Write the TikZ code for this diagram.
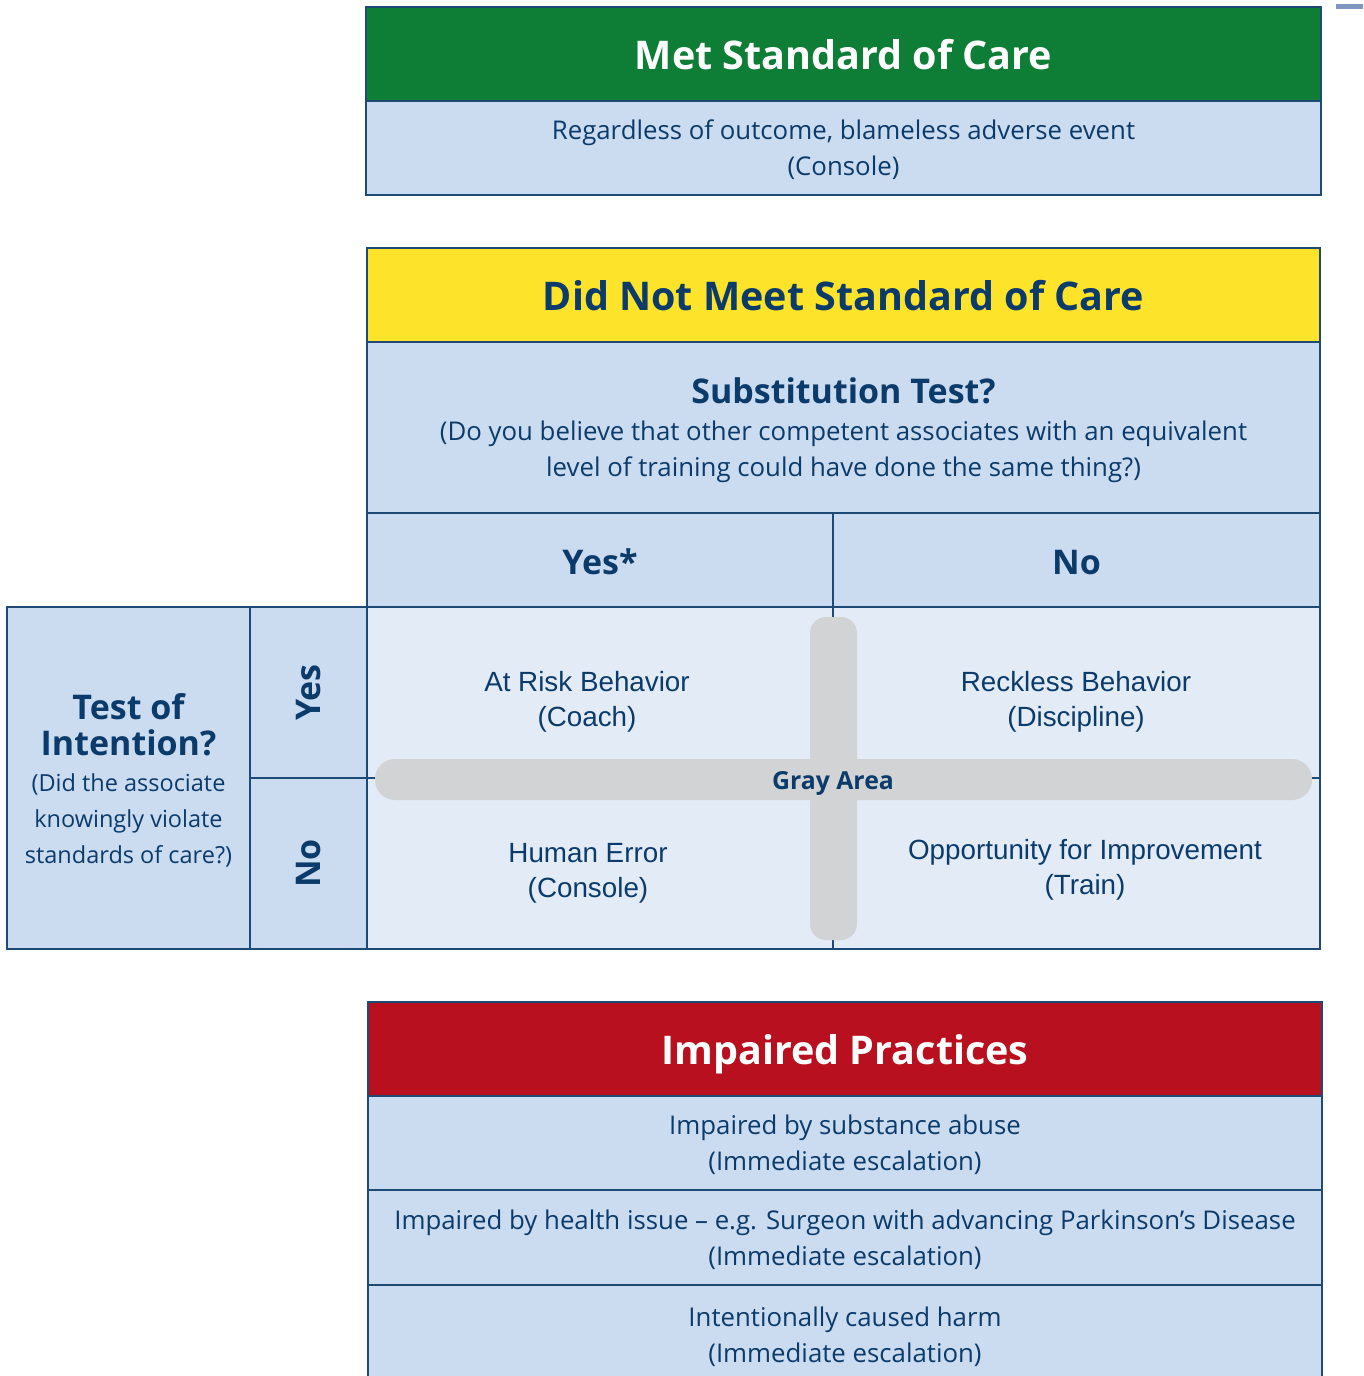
\documentclass[tikz,border=0pt]{standalone}
\usepackage{fontspec}
\setmainfont{Open Sans}
\newfontfamily\quadfont{Liberation Sans}
\usetikzlibrary{positioning}

\definecolor{navy}{HTML}{0B3B6B}
\definecolor{frame}{HTML}{1E4A78}
\definecolor{paleblue}{HTML}{CBDBF0}
\definecolor{quadblue}{HTML}{E3EBF6}
\definecolor{metgreen}{HTML}{0E7D36}
\definecolor{notyellow}{HTML}{FDE42A}
\definecolor{impred}{HTML}{B8101F}
\definecolor{grayarea}{HTML}{D2D3D5}
\definecolor{tabmark}{HTML}{7F97C0}

\newcommand\hdrsize{\fontsize{39.5}{44}\selectfont\bfseries}
\newcommand\subsize{\fontsize{34}{36}\selectfont\bfseries}
\newcommand\txtsize{\fontsize{25.8}{36}\selectfont\mdseries}
\newcommand\smallsize{\fontsize{23.5}{36.5}\selectfont\mdseries}

\tikzset{
  box/.style={draw=frame, line width=1.5pt, inner sep=0pt, outer sep=0pt,
    align=center, text=navy, node font=\txtsize},
  hdr/.style={box, minimum height=94pt, node font=\hdrsize, text height=31pt, text depth=0pt},
  cell/.style={box, fill=paleblue, text depth=0pt},
  answer/.style={box, fill=paleblue, minimum height=94pt, node font=\subsize, text height=28pt, text depth=0pt},
  quad/.style={box, fill=quadblue, minimum width=#1, minimum height=171pt},
  quadtext/.style={align=center, text=navy, font=\quadfont\fontsize{27.8}{35}\selectfont},
}

\begin{document}
\begin{tikzpicture}[x=1pt, y=-1pt, node distance=0pt]
    \useasboundingbox (0,0) rectangle (1363,1376);
    \fill[tabmark] (1336,4) rectangle (1363,9);

    % Met standard of care
    \node [hdr, fill=metgreen, text=white, minimum width=955pt] (met) at (843.5,54) {Met Standard of Care};
    \node [cell, minimum width=955pt, minimum height=94pt, below=of met] (metnote)
        {Regardless of outcome, blameless adverse event\\(Console)};

    % Did not meet standard of care
    \node [hdr, fill=notyellow, minimum width=953pt] (notmet) at (843.5,295) {Did Not Meet Standard of Care};
    \node [cell, minimum width=953pt, minimum height=171pt, below=of notmet] (subst)
        {\subsize Substitution Test?\\[1pt]
         \txtsize (Do you believe that other competent associates with an equivalent\\
         \txtsize level of training could have done the same thing?)};
    \node [answer, minimum width=466pt, anchor=north west] (yescol) at (subst.south west) {Yes*};
    \node [answer, minimum width=487pt, right=of yescol] (nocol) {No};

    % Quadrants
    \node [quad=466pt, anchor=north west] (q11) at (yescol.south west) {};
    \node [quad=487pt, right=of q11] (q12) {};
    \node [quad=466pt, below=of q11] (q21) {};
    \node [quad=487pt, below=of q12] (q22) {};

    % Test of intention
    \node [cell, minimum width=117pt, minimum height=171pt, left=of q11] (intyes) {};
    \node [cell, minimum width=117pt, minimum height=171pt, left=of q21] (intno) {};
    \node [rotate=90, text=navy, font=\subsize] (yeslbl) at (intyes.center) {Yes};
    \node [rotate=90, text=navy, font=\subsize] (nolbl) at (intno.center) {No};
    \node [cell, minimum width=243pt, minimum height=342pt, anchor=north east] (intent) at (intyes.north west)
        {\subsize Test of\\ \subsize Intention?\\[0pt]
         \smallsize (Did the associate\\ \smallsize knowingly violate\\ \smallsize standards of care?)};

    % Gray area cross
    \fill [grayarea, rounded corners=20pt] (375,759) rectangle (1312,800);
    \fill [grayarea, rounded corners=16pt] (810,617) rectangle (857,940);
    \node [text=navy, font=\fontsize{24.8}{28}\selectfont\bfseries] (gray) at (833,783) {Gray Area};

    \node [quadtext] (atrisk) at (587,702) {At Risk Behavior\\(Coach)};
    \node [quadtext] (reckless) at (1076,702) {Reckless Behavior\\(Discipline)};
    \node [quadtext] (human) at (588,873) {Human Error\\(Console)};
    \node [quadtext] (improve) at (1085,870) {Opportunity for Improvement\\(Train)};

    % Impaired practices
    \node [hdr, fill=impred, text=white, minimum width=954pt] (impaired) at (845,1049) {Impaired Practices};
    \node [cell, minimum width=954pt, minimum height=94pt, below=of impaired] (imp1)
        {Impaired by substance abuse\\(Immediate escalation)};
    \node [cell, minimum width=954pt, minimum height=95pt, below=of imp1] (imp2)
        {Impaired by health issue -- e.g. Surgeon with advancing Parkinson’s Disease\\(Immediate escalation)};
    \node [cell, minimum width=954pt, minimum height=100pt, below=of imp2] (imp3)
        {Intentionally caused harm\\(Immediate escalation)};
\end{tikzpicture}
\end{document}
